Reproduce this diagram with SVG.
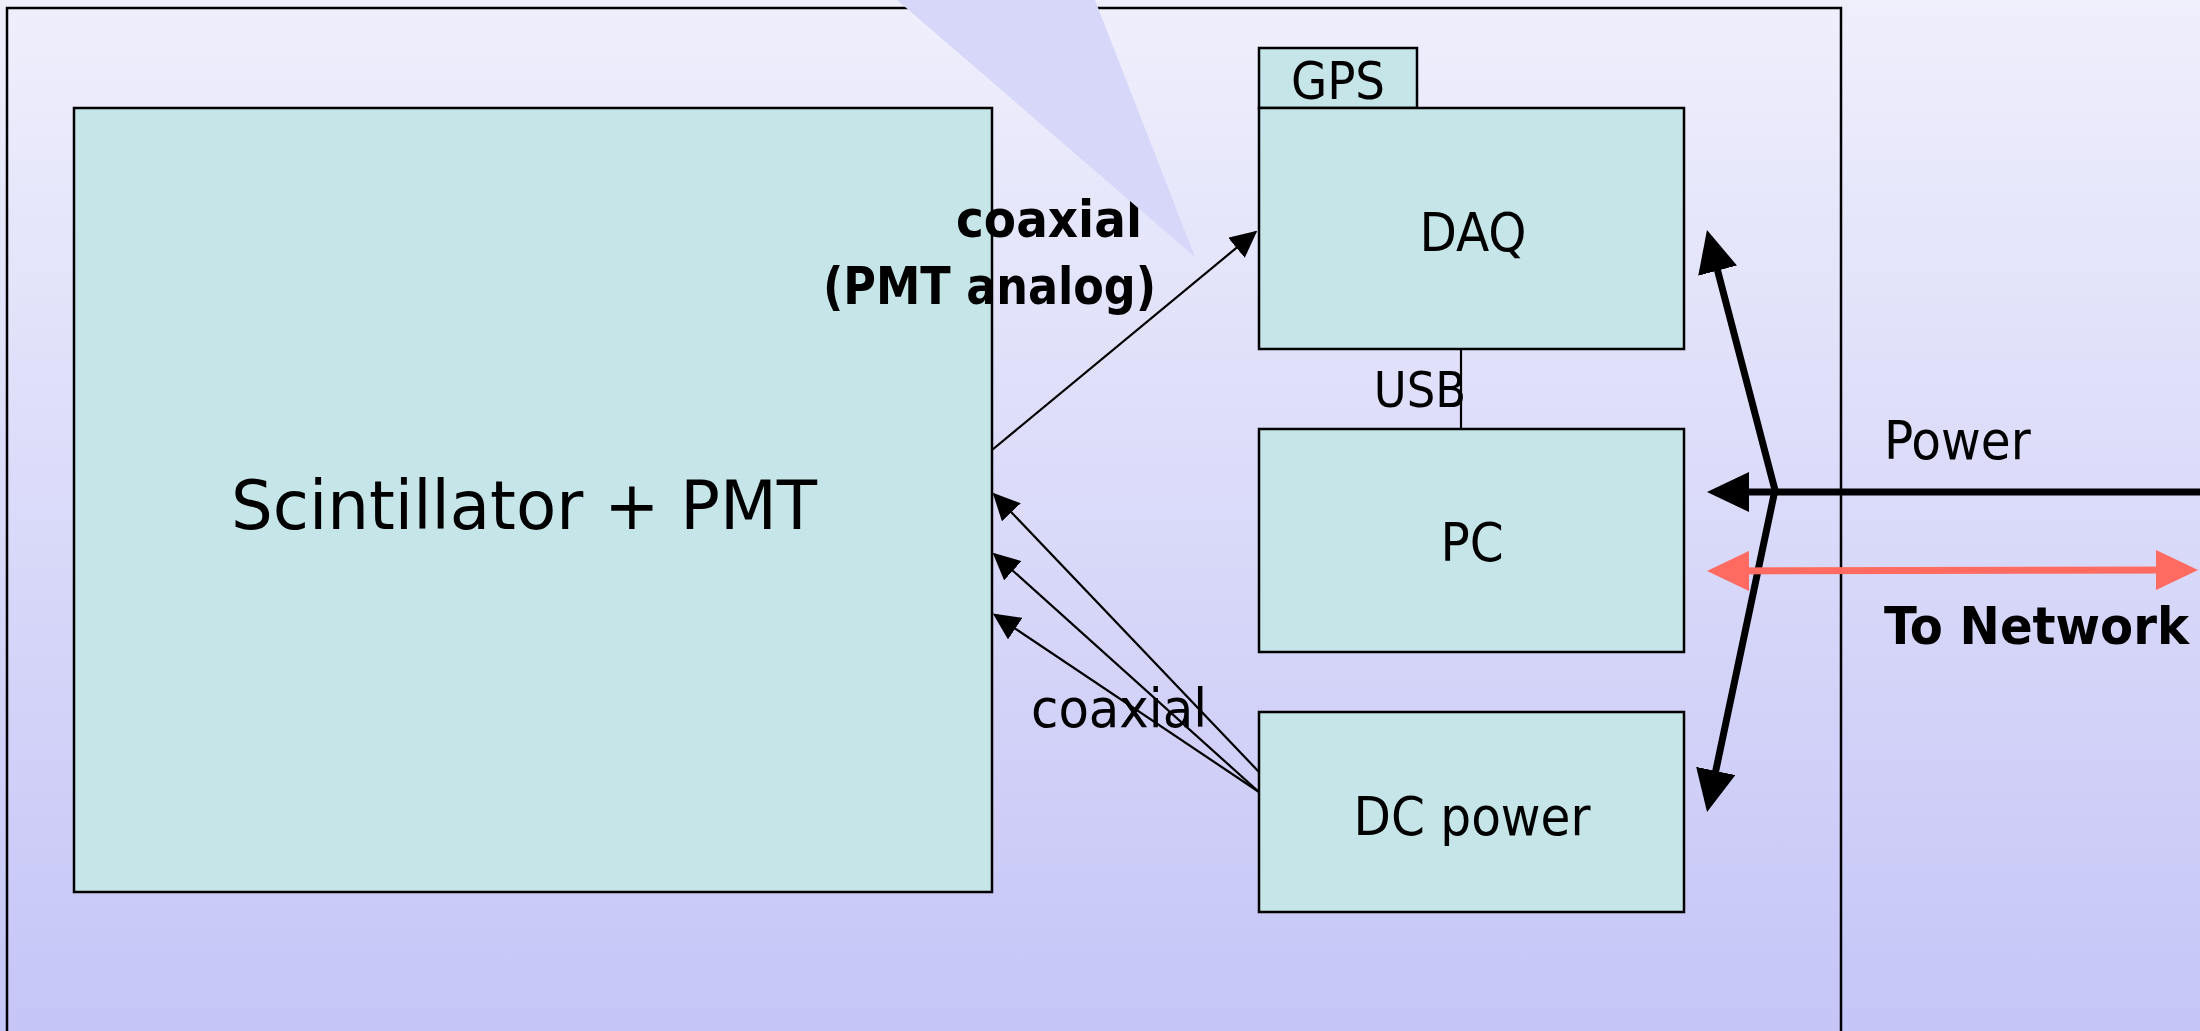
<svg xmlns="http://www.w3.org/2000/svg" width="2200" height="1031" viewBox="0 0 2200 1031">
  <defs>
    <linearGradient id="bg" x1="0" y1="0" x2="0" y2="1">
      <stop offset="0" stop-color="#efeffc"/>
      <stop offset="1" stop-color="#c5c5f7"/>
    </linearGradient>
    <marker id="thin" viewBox="0 0 27 26" refX="25" refY="13" markerWidth="27" markerHeight="26" markerUnits="userSpaceOnUse" orient="auto">
      <path d="M0,0 L27,13 L0,26 z" fill="#000"/>
    </marker>
    <marker id="thick" viewBox="0 0 42 40" refX="34" refY="20" markerWidth="42" markerHeight="40" markerUnits="userSpaceOnUse" orient="auto-start-reverse">
      <path d="M0,0 L42,20 L0,40 z" fill="#000"/>
    </marker>
    <marker id="net" viewBox="0 0 42 40" refX="34" refY="20" markerWidth="42" markerHeight="40" markerUnits="userSpaceOnUse" orient="auto-start-reverse">
      <path d="M0,0 L42,20 L0,40 z" fill="#ff6b61"/>
    </marker>
  </defs>
  <style>
    .box { fill: #c5e5e8; stroke: #000; stroke-width: 2.5; }
    .t { font-family: 'DejaVu Sans Condensed', 'DejaVu Sans', sans-serif; font-stretch: condensed; fill: #000; }
    .c { text-anchor: middle; }
    .b { font-weight: bold; }
    .thin { fill: none; stroke: #000; stroke-width: 2.2; marker-end: url(#thin); }
  </style>
  <rect x="0" y="0" width="2200" height="1031" fill="url(#bg)"/>
  <rect id="enclosure" x="7" y="8" width="1834" height="1040" fill="none" stroke="#000" stroke-width="2.5"/>

  <g id="scintillator">
    <rect class="box" x="74" y="108" width="918" height="784"/>
    <text class="t" x="231" y="529" font-size="68" textLength="586" lengthAdjust="spacingAndGlyphs">Scintillator + PMT</text>
  </g>
  <g id="gps">
    <rect class="box" x="1259" y="48" width="158" height="60"/>
    <text class="t c" x="1338" y="99" font-size="52">GPS</text>
  </g>
  <g id="daq">
    <rect class="box" x="1259" y="108" width="425" height="241"/>
    <text class="t c" x="1473" y="251" font-size="54">DAQ</text>
  </g>
  <g id="pc">
    <rect class="box" x="1259" y="429" width="425" height="223"/>
    <text class="t c" x="1472" y="561" font-size="54">PC</text>
  </g>
  <g id="dcpower">
    <rect class="box" x="1259" y="712" width="425" height="200"/>
    <text class="t c" x="1472" y="835" font-size="54">DC power</text>
  </g>

  <g id="connectors">
    <line x1="1461" y1="349" x2="1461" y2="429" stroke="#000" stroke-width="2.2"/>
    <line class="thin" x1="992" y1="450" x2="1255.7" y2="231.9"/>
    <line class="thin" x1="1259" y1="772" x2="994.1" y2="494.2"/>
    <line class="thin" x1="1259" y1="792" x2="994.2" y2="554"/>
    <line class="thin" x1="1259" y1="792" x2="994.5" y2="614.7"/>
    <polyline points="1709,237.7 1775,490 1708.7,804.2" fill="none" stroke="#000" stroke-width="7" marker-start="url(#thick)" marker-end="url(#thick)"/>
    <line x1="2200" y1="492" x2="1715" y2="492" stroke="#000" stroke-width="7" marker-end="url(#thick)"/>
    <line x1="1715" y1="571" x2="2190" y2="570" stroke="#ff6b61" stroke-width="7" marker-start="url(#net)" marker-end="url(#net)"/>
  </g>

  <g id="labels">
    <text class="t c" x="1420" y="407" font-size="50">USB</text>
    <text class="t" x="1031" y="727" font-size="54" textLength="176" lengthAdjust="spacingAndGlyphs">coaxial</text>
    <text class="t" x="1884" y="459" font-size="54">Power</text>
    <text class="t b" x="1884" y="644" font-size="52" textLength="305" lengthAdjust="spacingAndGlyphs">To Network</text>
    <text class="t b" x="956" y="237" font-size="52" textLength="186" lengthAdjust="spacingAndGlyphs">coaxial</text>
    <text class="t b" x="823" y="304" font-size="52" textLength="333" lengthAdjust="spacingAndGlyphs">(PMT analog)</text>
  </g>

  <polygon id="callout" points="897,0 1095,0 1195,257" fill="#d7d7fa"/>
</svg>
